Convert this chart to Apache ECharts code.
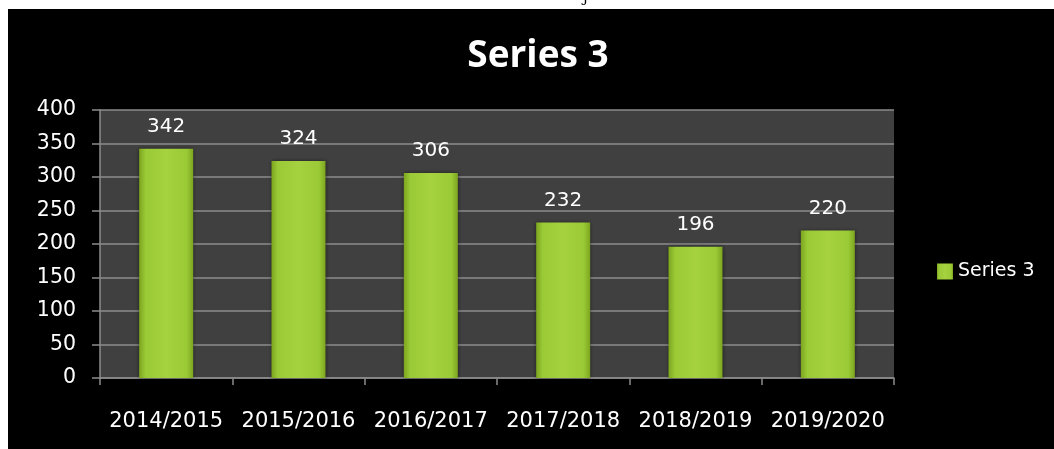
<!DOCTYPE html>
<html>
<head>
<meta charset="utf-8">
<script src="https://cdn.jsdelivr.net/npm/echarts@6/dist/echarts.min.js"></script>
<style>
html,body{margin:0;padding:0;background:#fff;width:1054px;height:449px;overflow:hidden;}
#bg{position:absolute;left:8px;top:9px;width:1046px;height:440px;background:#000;}
#chart{position:absolute;left:0;top:0;width:1054px;height:449px;}
</style>
</head>
<body>
<div id="bg"></div>
<div id="chart"></div>
<script>
const categories = ['2014/2015','2015/2016','2016/2017','2017/2018','2018/2019','2019/2020'];
const seriesName = 'Series 3';
const values = [342, 324, 306, 232, 196, 220];
const yTicks = {min: 0, max: 400, interval: 50};

const font = 'DejaVu Sans';
const chart = echarts.init(document.getElementById('chart'), null, {renderer: 'canvas'});
chart.setOption({
  backgroundColor: 'transparent',
  title: {
    text: seriesName,
    left: 533, textAlign: 'center',
    top: 33,
    textStyle: {color: '#fff', fontFamily: 'Open Sans', fontWeight: 'bold', fontSize: 37}
  },
  graphic: [{
    type: 'text', left: 583, top: -9,
    style: {text: 'j', fill: '#000', font: '15px "DejaVu Serif"'}
  }],
  legend: {
    data: [seriesName],
    left: 932, top: 257,
    icon: 'rect', itemWidth: 16, itemHeight: 16, itemGap: 10,
    textStyle: {color: '#fff', fontFamily: font, fontSize: 19}
  },
  grid: {
    left: 100, right: 160, top: 110, bottom: 71,
    show: true, backgroundColor: '#404040', borderWidth: 0
  },
  xAxis: {
    type: 'category', data: categories,
    axisLine: {lineStyle: {color: '#8c8c8c', width: 1.5}},
    axisTick: {show: true, length: 7, interval: 0, lineStyle: {color: '#8c8c8c', width: 1.5}},
    axisLabel: {color: '#fff', fontFamily: font, fontSize: 21, margin: 33, interval: 0}
  },
  yAxis: {
    type: 'value', min: yTicks.min, max: yTicks.max, interval: yTicks.interval,
    axisLine: {show: true, lineStyle: {color: '#8c8c8c', width: 1.5}},
    axisTick: {show: true, length: 8, lineStyle: {color: '#8c8c8c', width: 1.5}},
    splitLine: {lineStyle: {color: '#8c8c8c', width: 1.5}},
    axisLabel: {color: '#fff', fontFamily: font, fontSize: 20.5, margin: 24}
  },
  series: [{
    name: seriesName, type: 'bar', data: values, barWidth: 54,
    itemStyle: {
      color: new echarts.graphic.LinearGradient(0, 0, 1, 0, [
        {offset: 0, color: '#7da51f'},
        {offset: 0.12, color: '#9aca36'},
        {offset: 0.5, color: '#a5d23e'},
        {offset: 0.88, color: '#9aca36'},
        {offset: 1, color: '#7da51f'}
      ]),
      shadowColor: 'rgba(0,0,0,0.5)', shadowBlur: 4
    },
    label: {
      show: true, position: 'top', distance: 12,
      color: '#fff', fontFamily: font, fontSize: 20
    }
  }]
});
</script>
</body>
</html>
